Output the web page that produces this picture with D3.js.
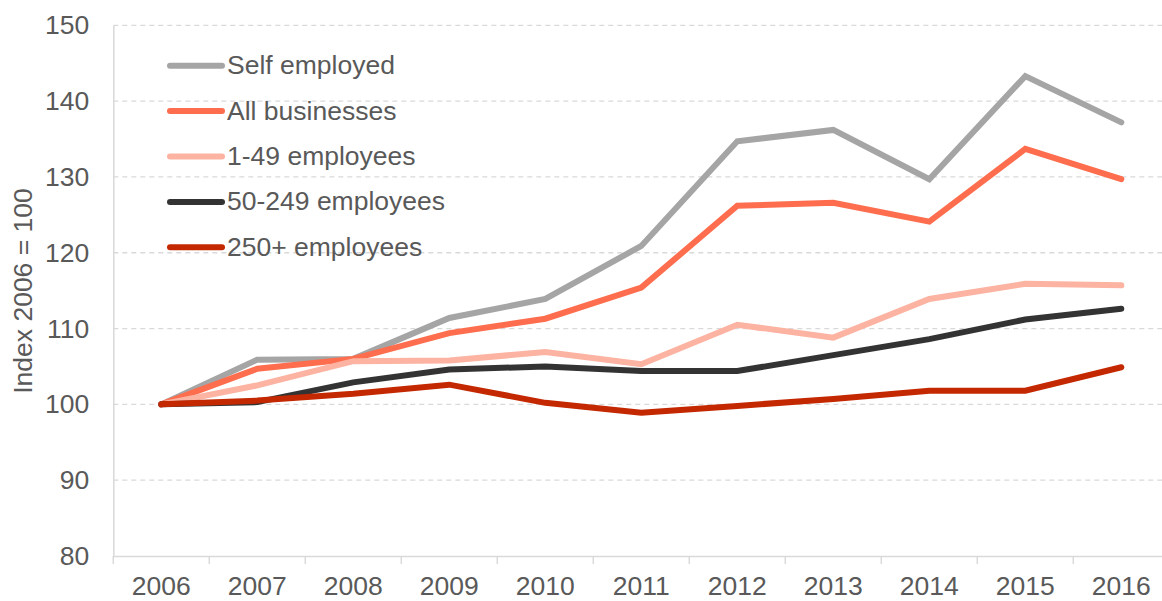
<!DOCTYPE html>
<html>
<head>
<meta charset="utf-8">
<script src="https://cdn.jsdelivr.net/npm/d3@7"></script>
<style>
  body { margin: 0; background: white; }
  #container { width: 1162px; height: 601px; overflow: hidden; }
  text { font-family: "Liberation Sans", Arial, sans-serif; fill: #595959; }
</style>
</head>
<body>
<div id="container"></div>
<script>
// data
let years = ["2006","2007","2008","2009","2010","2011","2012","2013","2014","2015","2016"];
let selfEmployed = [100, 105.9, 106.0, 111.4, 113.9, 120.9, 134.7, 136.2, 129.7, 143.3, 137.2];
let allBusinesses = [100, 104.7, 106.0, 109.4, 111.3, 115.4, 126.2, 126.6, 124.1, 133.7, 129.7];
let small = [100, 102.5, 105.7, 105.8, 106.9, 105.3, 110.5, 108.8, 113.9, 115.9, 115.7];
let medium = [100, 100.3, 102.9, 104.6, 105.0, 104.4, 104.4, 106.5, 108.6, 111.2, 112.6];
let large = [100, 100.5, 101.4, 102.6, 100.2, 98.9, 99.8, 100.7, 101.8, 101.8, 104.9];
let seriesNames = ["Self employed", "All businesses", "1-49 employees", "50-249 employees", "250+ employees"];
let yTicks = [80, 90, 100, 110, 120, 130, 140, 150];

let colors = ["#a5a5a5", "#fe6d4d", "#fcb3a2", "#333333", "#c42800"];
let allSeries = [selfEmployed, allBusinesses, small, medium, large];

let viz = d3.select("#container").append("svg")
    .attr("width", 1162)
    .attr("height", 601)

let plotLeft = 113.3, plotTop = 25.3, plotBottom = 556;
let fontSize = "26.5px";

let x = d3.scaleBand()
    .domain(years)
    .range([plotLeft, plotLeft + 96 * years.length])

let y = d3.scaleLinear()
    .domain([80, 150])
    .range([plotBottom, plotTop])

// grid
viz.append("g").selectAll("line").data(yTicks.slice(1)).enter()
    .append("line")
    .attr("x1", plotLeft)
    .attr("x2", 1162)
    .attr("y1", d => y(d))
    .attr("y2", d => y(d))
    .attr("stroke", "#d9d9d9")
    .attr("stroke-width", 1.3)
    .attr("stroke-dasharray", "5,4")

// y axis
let yAxis = viz.append("g")
    .attr("transform", "translate(" + plotLeft + ",0)")
    .call(d3.axisLeft(y).tickValues(yTicks).tickSize(0).tickPadding(24))
yAxis.select(".domain").attr("stroke", "#d9d9d9").attr("stroke-width", 1.5)
yAxis.selectAll("text").style("font-size", fontSize).attr("fill", "#595959")
    .style("font-family", "'Liberation Sans', Arial, sans-serif")

// x axis
let xAxis = viz.append("g")
    .attr("transform", "translate(0," + plotBottom + ")")
    .call(d3.axisBottom(x).tickSize(0).tickPadding(20))
xAxis.select(".domain").attr("stroke", "#d9d9d9").attr("stroke-width", 1.5)
xAxis.selectAll("text").style("font-size", fontSize).attr("fill", "#595959")
    .style("font-family", "'Liberation Sans', Arial, sans-serif")
// band boundary ticks
xAxis.append("g").selectAll("line").data(years).enter()
    .append("line")
    .attr("x1", d => x(d))
    .attr("x2", d => x(d))
    .attr("y1", 0)
    .attr("y2", 8)
    .attr("stroke", "#d9d9d9")
    .attr("stroke-width", 1.5)

// y label
viz.append("text")
    .attr("transform", "translate(32,291) rotate(-90)")
    .attr("text-anchor", "middle")
    .style("font-size", fontSize)
    .text("Index 2006 = 100")

// lines
let line = d3.line()
    .x((d, i) => x(years[i]) + x.bandwidth() / 2)
    .y(d => y(d))

viz.append("g").selectAll("path").data(allSeries).enter()
    .append("path")
    .attr("d", line)
    .attr("fill", "none")
    .attr("stroke", (d, i) => colors[i])
    .attr("stroke-width", 6)
    .attr("stroke-linecap", "round")
    .attr("stroke-linejoin", "miter")

// legend
let legend = viz.append("g").selectAll("g").data(seriesNames).enter()
    .append("g")
    .attr("transform", (d, i) => "translate(170," + (65.7 + i * 45.4) + ")")
legend.append("line")
    .attr("x1", 0)
    .attr("x2", 52)
    .attr("stroke", (d, i) => colors[i])
    .attr("stroke-width", 6)
    .attr("stroke-linecap", "round")
legend.append("text")
    .attr("x", 57)
    .attr("dy", "0.32em")
    .style("font-size", fontSize)
    .text(d => d)
</script>
</body>
</html>
